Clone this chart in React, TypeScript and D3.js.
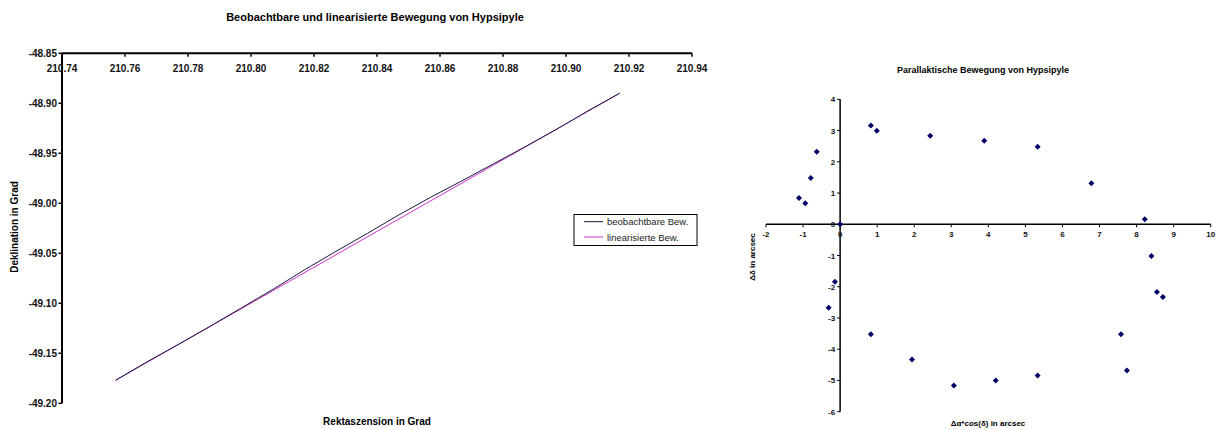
import React from "react";
import * as d3 from "d3";

// Left chart data
const obsRA = [210.757, 210.767, 210.777, 210.787, 210.797, 210.807, 210.817, 210.827, 210.837, 210.847, 210.857, 210.867, 210.877, 210.887, 210.897, 210.907, 210.917];
const obsDec = [-49.177, -49.1585, -49.141, -49.123, -49.1045, -49.086, -49.0665, -49.048, -49.03, -49.0115, -48.994, -48.9775, -48.9605, -48.9435, -48.926, -48.9075, -48.89];
const linRA = [210.757, 210.917];
const linDec = [-49.177, -48.89];
const leftXTicks = [210.74, 210.76, 210.78, 210.8, 210.82, 210.84, 210.86, 210.88, 210.9, 210.92, 210.94];
const leftYTicks = [-48.85, -48.9, -48.95, -49.0, -49.05, -49.1, -49.15, -49.2];
const seriesNames = ["beobachtbare Bew.", "linearisierte Bew."];

// Right chart data
const parX = [0, -1.11, -0.94, -0.79, -0.63, 0.83, 0.99, 2.43, 3.89, 5.33, 6.78, 8.22, 8.4, 8.55, 8.71, 7.58, 7.74, 5.33, 4.2, 3.07, 1.94, 0.83, -0.31, -0.14];
const parY = [0, 0.84, 0.67, 1.48, 2.32, 3.16, 2.99, 2.83, 2.67, 2.48, 1.31, 0.16, -1.02, -2.17, -2.33, -3.52, -4.68, -4.84, -5.0, -5.16, -4.33, -3.52, -2.67, -1.84];
const rightXTicks = [-2, -1, 0, 1, 2, 3, 4, 5, 6, 7, 8, 9, 10];
const rightYTicks = [4, 3, 2, 1, 0, -1, -2, -3, -4, -5, -6];

const FONT = "'Liberation Sans', Arial, sans-serif";

export default function App() {
  const lx = d3.scaleLinear().domain([210.74, 210.94]).range([62, 692]);
  const ly = d3.scaleLinear().domain([-48.85, -49.2]).range([53.3, 403.3]);
  const line = d3.line<[number, number]>().x((d) => lx(d[0])).y((d) => ly(d[1]));
  const obsPts: [number, number][] = obsRA.map((r, i) => [r, obsDec[i]]);
  const linPts: [number, number][] = linRA.map((r, i) => [r, linDec[i]]);

  const rx = d3.scaleLinear().domain([-2, 10]).range([766, 1210.7]);
  const ry = d3.scaleLinear().domain([4, -6]).range([99.3, 411.7]);
  const diamond = "M0,-3L3,0L0,3L-3,0Z";

  return (
    <svg width={1220} height={430} style={{ position: "absolute", left: 0, top: 0, background: "#fff" }}>
      <rect x={0} y={0} width={1220} height={430} fill="#fff" />
      {/* Left chart */}
      <text x={375} y={21} textAnchor="middle" fontFamily={FONT} fontWeight="bold" fontSize={11}>
        Beobachtbare und linearisierte Bewegung von Hypsipyle
      </text>
      <line x1={lx(210.74)} x2={lx(210.94)} y1={ly(-48.85)} y2={ly(-48.85)} stroke="#000" strokeWidth={2} />
      <line x1={lx(210.74)} x2={lx(210.74)} y1={ly(-48.85)} y2={ly(-49.2)} stroke="#000" strokeWidth={2} />
      {leftXTicks.map((t) => (
        <g key={"lx" + t}>
          <line x1={lx(t)} x2={lx(t)} y1={ly(-48.85)} y2={ly(-48.85) + 3.5} stroke="#000" strokeWidth={1.5} />
          <text x={lx(t)} y={ly(-48.85) + 19} textAnchor="middle" fontFamily={FONT} fontWeight="bold" fontSize={10} fill="#111">
            {t.toFixed(2)}
          </text>
        </g>
      ))}
      {leftYTicks.map((t) => (
        <g key={"ly" + t}>
          <line x1={lx(210.74) - 3.5} x2={lx(210.74)} y1={ly(t)} y2={ly(t)} stroke="#000" strokeWidth={1.5} />
          <text x={lx(210.74) - 5} y={ly(t) + 3.5} textAnchor="end" fontFamily={FONT} fontWeight="bold" fontSize={10} fill="#111">
            {t.toFixed(2)}
          </text>
        </g>
      ))}
      <path d={line(linPts) || ""} fill="none" stroke="#cc33cc" strokeWidth={1} />
      <path d={line(obsPts) || ""} fill="none" stroke="#1a1a40" strokeWidth={1} />
      <text transform={`translate(18,227) rotate(-90)`} textAnchor="middle" fontFamily={FONT} fontWeight="bold" fontSize={10}>
        Deklination in Grad
      </text>
      <text x={377} y={425} textAnchor="middle" fontFamily={FONT} fontWeight="bold" fontSize={10}>
        Rektaszension in Grad
      </text>
      {/* Legend */}
      <rect x={574} y={214.5} width={123} height={31} fill="#fff" stroke="#000" strokeWidth={1} />
      <line x1={584} x2={603} y1={221.7} y2={221.7} stroke="#1a1a40" strokeWidth={1} />
      <line x1={584} x2={603} y1={237} y2={237} stroke="#cc33cc" strokeWidth={1} />
      <text x={607} y={225} fontFamily={FONT} fontSize={9.5} fill="#222">{seriesNames[0]}</text>
      <text x={607} y={240.5} fontFamily={FONT} fontSize={9.5} fill="#222">{seriesNames[1]}</text>

      {/* Right chart */}
      <text x={983} y={72.5} textAnchor="middle" fontFamily={FONT} fontWeight="bold" fontSize={9}>
        Parallaktische Bewegung von Hypsipyle
      </text>
      <line x1={rx(-2)} x2={rx(10)} y1={ry(0)} y2={ry(0)} stroke="#000" strokeWidth={1.5} />
      <line x1={rx(0)} x2={rx(0)} y1={ry(4)} y2={ry(-6)} stroke="#000" strokeWidth={1.5} />
      {rightXTicks.map((t) => (
        <g key={"rx" + t}>
          <line x1={rx(t)} x2={rx(t)} y1={ry(0)} y2={ry(0) + 3} stroke="#000" strokeWidth={1} />
          <text x={rx(t)} y={ry(0) + 13} textAnchor="middle" fontFamily={FONT} fontWeight="bold" fontSize={8} fill="#111">
            {t}
          </text>
        </g>
      ))}
      {rightYTicks.map((t) => (
        <g key={"ry" + t}>
          <line x1={rx(0) - 3} x2={rx(0)} y1={ry(t)} y2={ry(t)} stroke="#000" strokeWidth={1} />
          <text x={rx(0) - 5} y={ry(t) + 3} textAnchor="end" fontFamily={FONT} fontWeight="bold" fontSize={8} fill="#111">
            {t}
          </text>
        </g>
      ))}
      {parX.map((x, i) => (
        <path key={"p" + i} d={diamond} transform={`translate(${rx(x)},${ry(parY[i])})`} fill="#000066" />
      ))}
      <text transform={`translate(755,257) rotate(-90)`} textAnchor="middle" fontFamily={FONT} fontWeight="bold" fontSize={8}>
        Δδ in arcsec
      </text>
      <text x={988} y={426} textAnchor="middle" fontFamily={FONT} fontWeight="bold" fontSize={8}>
        Δα*cos(δ) in arcsec
      </text>
    </svg>
  );
}
